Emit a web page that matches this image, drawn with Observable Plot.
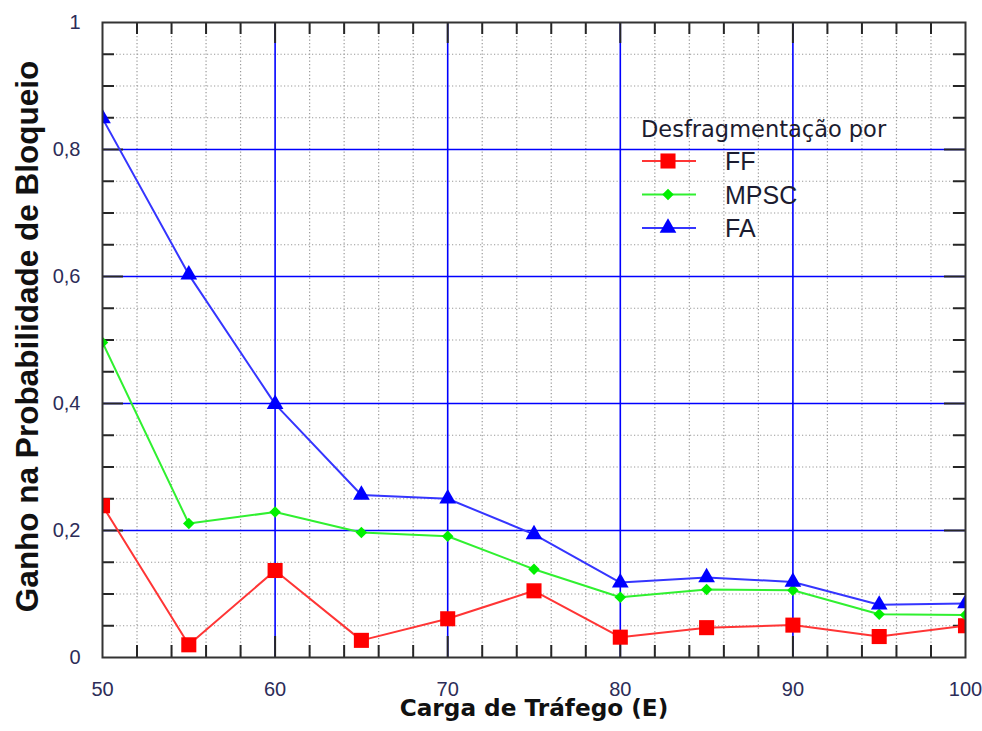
<!DOCTYPE html>
<html>
<head>
<meta charset="utf-8">
<script src="https://cdn.jsdelivr.net/npm/d3@7"></script>
<script src="https://cdn.jsdelivr.net/npm/@observablehq/plot@0.6"></script>
<style>
  body { margin: 0; background: #fff; }
  #chart { position: relative; width: 982px; height: 731px; }
  #chart svg.legend { position: absolute; left: 0; top: 0; pointer-events: none; }
  #chart g[aria-label="x-axis tick label"],
  #chart g[aria-label="y-axis tick label"] {
    font-size: 20px;
    font-family: "Liberation Sans", sans-serif;
  }
</style>
</head>
<body>
<div id="chart"></div>
<script>
// Traffic load (Erlang) on the x axis
const loads = [50, 55, 60, 65, 70, 75, 80, 85, 90, 95, 100];

// Blocking-probability gain for each defragmentation policy
const gainFF   = [0.239, 0.020, 0.137, 0.027, 0.061, 0.105, 0.032, 0.047, 0.051, 0.033, 0.050];
const gainMPSC = [0.496, 0.211, 0.229, 0.197, 0.191, 0.139, 0.095, 0.107, 0.106, 0.068, 0.067];
const gainFA   = [0.849, 0.603, 0.399, 0.256, 0.250, 0.194, 0.118, 0.126, 0.119, 0.083, 0.085];

const seriesNames = ["FF", "MPSC", "FA"];
const xTickValues = [50, 60, 70, 80, 90, 100];
const yTickValues = [0, 0.2, 0.4, 0.6, 0.8, 1];

const legendTitle = "Desfragmentação por";
const xTitle = "Carga de Tráfego (E)";
const yTitle = "Ganho na Probabilidade de Bloqueio";

// Layout
const W = 982, H = 731;
const margin = {top: 22, right: 17, bottom: 74, left: 102};
const frameW = W - margin.left - margin.right;
const frameH = H - margin.top - margin.bottom;

// Series styling
const styleOf = {
  FF:   {fill: "#ff0000", line: "#ff3535", symbol: "square",   d3symbol: d3.symbolSquare,   r: 8.5},
  MPSC: {fill: "#00f000", line: "#30f030", symbol: "diamond2", d3symbol: d3.symbolDiamond2, r: 5.2},
  FA:   {fill: "#0000ff", line: "#3535ff", symbol: "triangle", d3symbol: d3.symbolTriangle, r: 6.2}
};
const valuesOf = {FF: gainFF, MPSC: gainMPSC, FA: gainFA};

const rowsOf = name => loads.map((load, i) => ({series: name, load, gain: valuesOf[name][i]}));

// Grid and tick positions
const majorX = [60, 70, 80, 90];
const minorX = d3.range(52, 100, 2).filter(v => v % 10 !== 0);
const majorY = [0.2, 0.4, 0.6, 0.8];
const minorY = d3.range(1, 20).filter(i => i % 4 !== 0).map(i => i / 20);

const commaFormat = d => String(d).replace(".", ",");
const tickColor = "#262626";
const labelColor = "#2c2c58";

const seriesMarks = seriesNames.flatMap(name => {
  const s = styleOf[name];
  const rows = rowsOf(name);
  return [
    Plot.line(rows, {x: "load", y: "gain", stroke: s.line, strokeWidth: 2, clip: "frame"}),
    Plot.dot(rows, {x: "load", y: "gain", symbol: s.symbol, fill: s.fill, stroke: "none", r: s.r, clip: "frame"})
  ];
});

const chart = Plot.plot({
  width: W,
  height: H,
  marginTop: margin.top,
  marginRight: margin.right,
  marginBottom: margin.bottom,
  marginLeft: margin.left,
  style: {fontFamily: "Liberation Sans", fontSize: "20px", background: "#fff"},
  x: {domain: [50, 100]},
  y: {domain: [0, 1]},
  marks: [
    // dotted minor grid
    Plot.ruleX(minorX, {stroke: "#999", strokeWidth: 1.2, strokeDasharray: "1.2,2.3"}),
    Plot.ruleY(minorY, {stroke: "#999", strokeWidth: 1.2, strokeDasharray: "1.2,2.3"}),
    // solid major grid
    Plot.ruleX(majorX, {stroke: "#0000ff", strokeWidth: 1.6}),
    Plot.ruleY(majorY, {stroke: "#0000ff", strokeWidth: 1.6}),
    // inward ticks on all four sides
    Plot.ruleX(minorX, {stroke: tickColor, strokeWidth: 2, insetTop: frameH - 12}),
    Plot.ruleX(minorX, {stroke: tickColor, strokeWidth: 2, insetBottom: frameH - 12}),
    Plot.ruleX(majorX, {stroke: tickColor, strokeWidth: 2, insetTop: frameH - 21}),
    Plot.ruleX(majorX, {stroke: tickColor, strokeWidth: 2, insetBottom: frameH - 21}),
    Plot.ruleY(minorY, {stroke: tickColor, strokeWidth: 2, insetRight: frameW - 12}),
    Plot.ruleY(minorY, {stroke: tickColor, strokeWidth: 2, insetLeft: frameW - 12}),
    Plot.ruleY(majorY, {stroke: tickColor, strokeWidth: 2, insetRight: frameW - 21}),
    Plot.ruleY(majorY, {stroke: tickColor, strokeWidth: 2, insetLeft: frameW - 21}),
    // tick labels
    Plot.axisX({ticks: xTickValues, anchor: "bottom", tickSize: 0, tickPadding: 24,
      tickFormat: commaFormat, fill: labelColor, fontSize: 20, label: null}),
    Plot.axisY({ticks: yTickValues, anchor: "left", tickSize: 0, tickPadding: 22,
      tickFormat: commaFormat, fill: labelColor, fontSize: 20, label: null}),
    // series
    ...seriesMarks,
    Plot.frame({stroke: "#333", strokeWidth: 2}),
    // axis titles
    Plot.text([xTitle], {frameAnchor: "bottom", lineAnchor: "middle", textAnchor: "middle", dy: 51,
      fontFamily: "DejaVu Sans", fontSize: 23.2, fontWeight: "bold", fill: "#111"}),
    Plot.text([yTitle], {frameAnchor: "left", lineAnchor: "middle", textAnchor: "middle", rotate: -90,
      dx: -75, dy: -3.5, fontFamily: "Liberation Sans", fontSize: 31.5, fontWeight: "bold", fill: "#111"})
  ]
});

const container = document.getElementById("chart");
container.appendChild(chart);

// Legend drawn over the plotting area
const legend = d3.select(container).append("svg")
  .attr("class", "legend")
  .attr("width", W)
  .attr("height", H);

legend.append("text")
  .attr("x", 641)
  .attr("y", 137)
  .attr("font-family", "DejaVu Sans")
  .attr("font-size", 22.5)
  .attr("fill", "#1c1c30")
  .text(legendTitle);

seriesNames.forEach((name, i) => {
  const s = styleOf[name];
  const cy = 161 + i * 33.5;
  legend.append("line")
    .attr("x1", 642).attr("x2", 696)
    .attr("y1", cy).attr("y2", cy)
    .attr("stroke", s.line)
    .attr("stroke-width", 2);
  legend.append("path")
    .attr("transform", `translate(668,${cy})`)
    .attr("d", d3.symbol(s.d3symbol, Math.PI * s.r * s.r)())
    .attr("fill", s.fill);
  legend.append("text")
    .attr("x", 725)
    .attr("y", cy + 9)
    .attr("font-family", "Liberation Sans")
    .attr("font-size", 25)
    .attr("fill", "#1c1c30")
    .text(name);
});
</script>
</body>
</html>
